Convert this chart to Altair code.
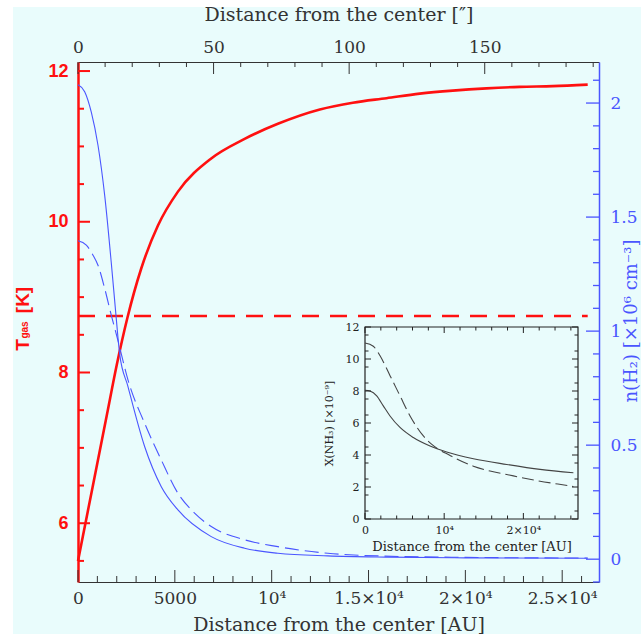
import altair as alt
import pandas as pd

# ---------------- model profiles (distance from the core centre in AU) ----------------
au_tgas = [0, 500, 1000, 1500, 2000, 2545, 3265, 4128, 5160, 6878, 8602, 10320, 12487,
           14190, 15930, 17647, 19350, 21090, 22807, 24510, 26316]
tgas = [5.5, 6.15, 6.8, 7.45, 8.1, 8.72, 9.38, 9.95, 10.40, 10.84, 11.10, 11.30, 11.49,
        11.58, 11.64, 11.70, 11.74, 11.77, 11.79, 11.80, 11.82]

au_tconst = [0, 26316]
tconst = [8.75, 8.75]

au_n1 = [0, 345, 687, 1032, 1378, 1718, 1976, 2150, 2580, 3440, 4300, 5160,
         6880, 8600, 10320, 12900, 16000, 20000, 26316]
n1 = [2.08, 2.05, 1.96, 1.815, 1.595, 1.30, 1.055, 0.90, 0.757, 0.494, 0.318, 0.216,
      0.099, 0.048, 0.026, 0.0145, 0.009, 0.006, 0.004]

au_n2 = [0, 430, 775, 1032, 1378, 1718, 2060, 2580, 3440, 4300, 5160, 6020,
         6880, 8600, 10320, 12900, 15480, 20000, 26316]
n2 = [1.396, 1.377, 1.333, 1.289, 1.187, 1.07, 0.96, 0.786, 0.596, 0.435, 0.289, 0.202,
      0.143, 0.085, 0.055, 0.026, 0.0145, 0.008, 0.005]

# NH3 abundance profiles (units of 1e-9)
au_x1 = [0, 630, 1480, 2310, 3160, 4420, 6100, 8210, 10320, 13690, 17900, 22110, 26316]
x1 = [8.05, 8.0, 7.7, 7.07, 6.44, 5.72, 5.09, 4.56, 4.19, 3.77, 3.41, 3.10, 2.89]

au_x2 = [0, 1050, 1900, 3160, 4420, 5690, 7370, 8400, 9480, 10640, 11580, 13690, 15790,
         17900, 21690, 25690, 26316]
x2 = [11.0, 10.8, 10.2, 8.96, 7.7, 6.44, 5.19, 4.68, 4.3, 4.0, 3.75, 3.3, 3.0,
      2.78, 2.4, 2.08, 2.03]

# ---------------- axes ----------------
DIST_PC = 140            # arcsec = AU / distance[pc]
AU_MAX = 26900
au_major = [0, 5000, 10000, 15000, 20000, 25000]
au_labels = ['0', '5000', '10⁴', '1.5×10⁴', '2×10⁴', '2.5×10⁴']
au_minor = [v for v in range(0, 26001, 1000) if v % 5000]
arc_major = [0, 50, 100, 150]
arc_minor = [v for v in range(0, 191, 10) if v % 50]
t_major = [6, 8, 10, 12]
t_minor = [5.5, 6.5, 7, 7.5, 8.5, 9, 9.5, 10.5, 11, 11.5]
n_major = [0, 0.5, 1, 1.5, 2]
n_minor = [-0.1, 0.1, 0.2, 0.3, 0.4, 0.6, 0.7, 0.8, 0.9, 1.1, 1.2, 1.3, 1.4,
           1.6, 1.7, 1.8, 1.9, 2.1]
in_x_major = [0, 10000, 20000]
in_x_labels = ['0', '10⁴', '2×10⁴']
in_x_minor = [v for v in range(0, 26001, 2000) if v % 10000]
in_y_major = [0, 2, 4, 6, 8, 10, 12]
in_y_minor = [v / 2 for v in range(1, 24, 2)]

# ---------------- layout ----------------
W, H = 521, 520
PAD_L, PAD_T, PAD_R, PAD_B = 78, 62, 42, 52
IX0, IX1 = 287, 500      # inset frame (plot pixels)
IY0, IY1 = 265, 457

RED = '#ff1010'
BLUE = '#4a55ff'
DARK = '#333333'
INK = '#222222'
SERIF = 'DejaVu Serif'
SANS = 'Liberation Sans'

x_au = alt.Scale(domain=[0, AU_MAX], nice=False, zero=False)
x_arc = alt.Scale(domain=[0, AU_MAX / DIST_PC], nice=False, zero=False)
y_t = alt.Scale(domain=[5.22, 12.12], nice=False, zero=False)
y_n = alt.Scale(domain=[-0.1, 2.18], nice=False, zero=False)
x_in = alt.Scale(domain=[0, AU_MAX], range=[IX0, IX1], nice=False, zero=False)
y_in = alt.Scale(domain=[0, 12], range=[IY1, IY0], nice=False, zero=False)


def label_expr(values, labels):
    return "{}[indexof({}, datum.value)]".format(labels, values)


def profile(xs, ys, xscale, yscale, color, width, dash=None, xaxis=None, yaxis=None):
    df = pd.DataFrame({'r': xs, 'v': ys})
    kw = dict(color=color, strokeWidth=width, interpolate='monotone')
    if dash:
        kw['strokeDash'] = dash
    return alt.Chart(df).mark_line(**kw).encode(
        x=alt.X('r:Q', scale=xscale, axis=xaxis),
        y=alt.Y('v:Q', scale=yscale, axis=yaxis),
    )


def vticks(values, scale, y0, y1, color, width=1, axis=None):
    return alt.Chart(pd.DataFrame({'v': values})).mark_rule(
        color=color, strokeWidth=width).encode(
        x=alt.X('v:Q', scale=scale, axis=axis),
        y=alt.value(y0), y2=alt.value(y1))


def hticks(values, scale, x0, x1, color, width=1, axis=None):
    return alt.Chart(pd.DataFrame({'v': values})).mark_rule(
        color=color, strokeWidth=width).encode(
        y=alt.Y('v:Q', scale=scale, axis=axis),
        x=alt.value(x0), x2=alt.value(x1))


def label(text, x, y, size, color, weight='normal', font=SERIF, angle=0):
    return alt.Chart(pd.DataFrame({'t': [text]})).mark_text(
        font=font, fontSize=size, fontWeight=weight, color=color, angle=angle,
        align='center', baseline='middle').encode(
        text='t:N', x=alt.value(x), y=alt.value(y))


def strip(x0, x1, y0, y1):
    return alt.Chart(pd.DataFrame({'a': [0]})).mark_rect(color='white').encode(
        x=alt.value(x0), x2=alt.value(x1), y=alt.value(y0), y2=alt.value(y1))


au_axis = alt.Axis(values=au_major, labelExpr=label_expr(au_major, au_labels),
                   orient='bottom', tickSize=0, labelPadding=8, labelFlush=False,
                   labelFont=SERIF, labelFontSize=17, labelColor=DARK,
                   domainColor=DARK, domainWidth=1.2,
                   title='Distance from the center [AU]', titleFont=SERIF,
                   titleFontSize=19, titleFontWeight='normal', titleColor=DARK,
                   titlePadding=9)
arc_axis = alt.Axis(values=arc_major, format='d', orient='top', tickSize=0,
                    labelPadding=6, labelFlush=False, labelFont=SERIF,
                    labelFontSize=17, labelColor=DARK, domainColor=DARK,
                    domainWidth=1.2, title='Distance from the center [″]',
                    titleFont=SERIF, titleFontSize=19, titleFontWeight='normal',
                    titleColor=DARK, titlePadding=14)
t_axis = alt.Axis(values=t_major, format='d', orient='left', tickSize=0,
                  labelPadding=10, labelFont=SANS, labelFontSize=18,
                  labelFontWeight='bold', labelColor=RED, domainColor=RED,
                  domainWidth=2.5, title=None)
n_axis = alt.Axis(values=n_major, format='~g', orient='right', tickSize=0,
                  labelPadding=11, labelFont=SERIF, labelFontSize=17,
                  labelColor=BLUE, domainColor=BLUE, domainWidth=1.5, title=None)
in_x_axis = alt.Axis(values=in_x_major, labelExpr=label_expr(in_x_major, in_x_labels),
                     orient='bottom', offset=IY1 - H, tickSize=0, domain=False,
                     labelPadding=5, labelFlush=False, labelFont=SERIF,
                     labelFontSize=11, labelColor=INK,
                     title='Distance from the center [AU]', titleFont=SERIF,
                     titleFontSize=13, titleFontWeight='normal', titleColor=INK,
                     titlePadding=5)
in_y_axis = alt.Axis(values=in_y_major, format='d', orient='left', offset=-IX0,
                     tickSize=0, domain=False, labelPadding=6, labelFlush=False,
                     labelFont=SERIF, labelFontSize=11, labelColor=INK,
                     title='X(NH₃) [×10⁻⁹]', titleFont=SERIF, titleFontSize=11,
                     titleFontWeight='normal', titleColor=INK, titlePadding=11)

layers = [
    strip(-PAD_L, -PAD_L + 13, -PAD_T, H + PAD_B),
    strip(-PAD_L, W + PAD_R, -PAD_T, -PAD_T + 7),

    # main profiles
    profile(au_tgas, tgas, x_au, y_t, RED, 2.6, xaxis=au_axis, yaxis=t_axis),
    profile(au_tconst, tconst, x_au, y_t, RED, 2.6, dash=[17, 11]),
    profile(au_n1, n1, x_au, y_n, BLUE, 1.1, yaxis=n_axis),
    profile(au_n2, n2, x_au, y_n, BLUE, 1.1, dash=[14, 6]),

    # inward tick marks of the main frame
    vticks(au_major, x_au, H, H - 12, DARK),
    vticks(au_minor, x_au, H, H - 6, DARK),
    vticks(arc_major, x_arc, 0, 12, DARK, axis=arc_axis),
    vticks(arc_minor, x_arc, 0, 5, DARK),
    hticks(t_major, y_t, 0, 12, RED, 2),
    hticks(t_minor, y_t, 0, 6, RED, 2),
    hticks(n_major, y_n, W, W - 13, BLUE, 1.3),
    hticks(n_minor, y_n, W, W - 6, BLUE, 1.3),

    # inset: NH3 abundance
    alt.Chart(pd.DataFrame({'a': [0]})).mark_rect(
        filled=False, stroke=INK, strokeWidth=1.2).encode(
        x=alt.X(datum=0, type='quantitative', scale=x_in, axis=None),
        x2=alt.X2(datum=AU_MAX),
        y=alt.Y(datum=0, type='quantitative', scale=y_in, axis=None),
        y2=alt.Y2(datum=12)),
    profile(au_x1, x1, x_in, y_in, '#444444', 1.1, xaxis=in_x_axis, yaxis=in_y_axis),
    profile(au_x2, x2, x_in, y_in, '#444444', 1.1, dash=[12, 5]),
    vticks(in_x_major, x_in, IY1, IY1 - 6, INK),
    vticks(in_x_minor, x_in, IY1, IY1 - 3.5, INK),
    vticks(in_x_major, x_in, IY0, IY0 + 6, INK),
    vticks(in_x_minor, x_in, IY0, IY0 + 3.5, INK),
    hticks(in_y_major, y_in, IX0, IX0 + 6, INK),
    hticks(in_y_minor, y_in, IX0, IX0 + 3.5, INK),
    hticks(in_y_major, y_in, IX1, IX1 - 6, INK),
    hticks(in_y_minor, y_in, IX1, IX1 - 3.5, INK),

    # axis titles with sub/superscripts
    label('[K]', 23 - PAD_L, 300 - PAD_T, 19, RED, 'bold', SANS, 270),
    label('gas', 25 - PAD_L, 330 - PAD_T, 10, RED, 'bold', SANS, 270),
    label('T', 23 - PAD_L, 345 - PAD_T, 19, RED, 'bold', SANS, 270),
    label('n(H₂) [×10⁶ cm⁻³]', 632 - PAD_L, 321 - PAD_T, 18, BLUE, angle=270),
]

chart = alt.layer(*layers).resolve_scale(
    x='independent', y='independent'
).properties(
    width=W, height=H,
    autosize=alt.AutoSizeParams(type='none'),
    padding={'left': PAD_L, 'top': PAD_T, 'right': PAD_R, 'bottom': PAD_B},
    background='#e9fcfc',
).configure_view(stroke=None).configure_axis(grid=False)

chart.save('out.html', embed_options={'renderer': 'svg', 'actions': False})
